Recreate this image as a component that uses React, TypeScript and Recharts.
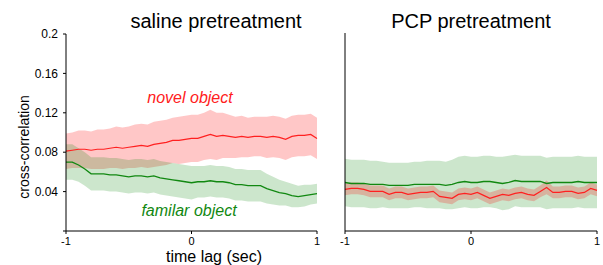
import React from 'react';
import { ComposedChart, Area, Line, XAxis, YAxis } from 'recharts';

// time lag (sec), step 0.05
const lags = [
  -1, -0.95, -0.9, -0.85, -0.8, -0.75, -0.7, -0.65, -0.6, -0.55, -0.5, -0.45, -0.4, -0.35, -0.3, -0.25, -0.2, -0.15, -0.1, -0.05,
  0, 0.05, 0.1, 0.15, 0.2, 0.25, 0.3, 0.35, 0.4, 0.45, 0.5, 0.55, 0.6, 0.65, 0.7, 0.75, 0.8, 0.85, 0.9, 0.95, 1,
];

// saline pretreatment
const salineNovel = [
  0.081, 0.082, 0.083, 0.083, 0.082, 0.083, 0.083, 0.084, 0.085, 0.084, 0.085, 0.086, 0.087, 0.086, 0.088, 0.089, 0.09, 0.092, 0.092, 0.093,
  0.094, 0.094, 0.096, 0.098, 0.096, 0.097, 0.096, 0.095, 0.096, 0.095, 0.096, 0.096, 0.095, 0.096, 0.095, 0.093, 0.096, 0.097, 0.097, 0.098, 0.094,
];
const salineNovelSem = [
  0.018, 0.018, 0.019, 0.019, 0.019, 0.02, 0.02, 0.02, 0.021, 0.021, 0.021, 0.022, 0.022, 0.022, 0.023, 0.023, 0.023, 0.023, 0.024, 0.024,
  0.024, 0.024, 0.024, 0.025, 0.024, 0.023, 0.022, 0.021, 0.021, 0.02, 0.02, 0.02, 0.021, 0.021, 0.021, 0.021, 0.021, 0.021, 0.021, 0.021, 0.021,
];
const salineFamiliar = [
  0.07, 0.07, 0.067, 0.063, 0.058, 0.058, 0.058, 0.057, 0.057, 0.056, 0.055, 0.056, 0.056, 0.055, 0.056, 0.054, 0.053, 0.052, 0.051, 0.05,
  0.049, 0.05, 0.05, 0.051, 0.05, 0.05, 0.049, 0.047, 0.047, 0.046, 0.046, 0.046, 0.043, 0.041, 0.039, 0.038, 0.036, 0.035, 0.036, 0.037, 0.038,
];
const salineFamiliarSem = [
  0.018, 0.018, 0.017, 0.017, 0.017, 0.017, 0.017, 0.017, 0.017, 0.017, 0.017, 0.017, 0.017, 0.017, 0.017, 0.017, 0.017, 0.017, 0.017, 0.017,
  0.017, 0.016, 0.016, 0.016, 0.016, 0.016, 0.016, 0.016, 0.016, 0.016, 0.016, 0.016, 0.015, 0.014, 0.013, 0.012, 0.012, 0.011, 0.011, 0.01, 0.01,
];

// PCP pretreatment
const pcpNovel = [
  0.042, 0.043, 0.043, 0.042, 0.04, 0.04, 0.04, 0.037, 0.039, 0.039, 0.037, 0.038, 0.039, 0.039, 0.04, 0.035, 0.034, 0.033, 0.037, 0.038,
  0.037, 0.039, 0.036, 0.033, 0.035, 0.037, 0.036, 0.038, 0.039, 0.037, 0.036, 0.04, 0.044, 0.039, 0.039, 0.04, 0.04, 0.038, 0.039, 0.043, 0.041,
];
const pcpNovelSem = [
  0.006, 0.006, 0.006, 0.006, 0.006, 0.006, 0.006, 0.006, 0.006, 0.006, 0.006, 0.006, 0.006, 0.006, 0.006, 0.006, 0.006, 0.006, 0.006, 0.006,
  0.006, 0.006, 0.006, 0.006, 0.006, 0.006, 0.006, 0.006, 0.006, 0.006, 0.006, 0.006, 0.007, 0.006, 0.006, 0.006, 0.006, 0.006, 0.006, 0.006, 0.006,
];
const pcpFamiliar = [
  0.049, 0.048, 0.048, 0.048, 0.047, 0.047, 0.047, 0.046, 0.046, 0.046, 0.046, 0.047, 0.047, 0.047, 0.047, 0.047, 0.046, 0.047, 0.049, 0.05,
  0.049, 0.049, 0.05, 0.05, 0.049, 0.048, 0.049, 0.051, 0.05, 0.05, 0.05, 0.05, 0.048, 0.049, 0.049, 0.049, 0.049, 0.05, 0.049, 0.049, 0.049,
];
const pcpFamiliarSem = [
  0.024, 0.024, 0.024, 0.024, 0.024, 0.024, 0.023, 0.023, 0.023, 0.023, 0.023, 0.023, 0.023, 0.024, 0.024, 0.024, 0.024, 0.025, 0.026, 0.026,
  0.026, 0.026, 0.026, 0.026, 0.026, 0.027, 0.027, 0.026, 0.026, 0.026, 0.026, 0.026, 0.026, 0.026, 0.026, 0.026, 0.026, 0.026, 0.026, 0.026, 0.026,
];

const yTicks = [0, 0.04, 0.08, 0.12, 0.16, 0.2];
const xTicks = [-1, 0, 1];

const build = (nov: number[], novSem: number[], fam: number[], famSem: number[]) =>
  lags.map((t, i) => ({
    t,
    novel: nov[i],
    novelBand: [nov[i] - novSem[i], nov[i] + novSem[i]],
    familiar: fam[i],
    familiarBand: [fam[i] - famSem[i], fam[i] + famSem[i]],
  }));

const salineData = build(salineNovel, salineNovelSem, salineFamiliar, salineFamiliarSem);
const pcpData = build(pcpNovel, pcpNovelSem, pcpFamiliar, pcpFamiliarSem);

const FONT = '"Liberation Sans", Arial, sans-serif';
const RED = '#ff2020';
const GREEN = '#118811';
const yTickStyle = { fill: '#000', fontSize: 12, fontFamily: FONT };
const xTickStyle = { fill: '#000', fontSize: 11, fontFamily: FONT };

const fmtY = (v: number) => (v === 0 ? '' : String(Number(v.toFixed(2))));

function Panel({ data, showLabels, redOnTop }: { data: any[]; showLabels: boolean; redOnTop: boolean }) {
  const novelBand = (
    <Area key="nb" type="linear" dataKey="novelBand" stroke="none" fill="#ff0000" fillOpacity={0.22}
      isAnimationActive={false} dot={false} activeDot={false} />
  );
  const famBand = (
    <Area key="fb" type="linear" dataKey="familiarBand" stroke="none" fill="#008000" fillOpacity={0.2}
      isAnimationActive={false} dot={false} activeDot={false} />
  );
  return (
    <ComposedChart
      width={showLabels ? 330 : 273}
      height={265}
      data={data}
      margin={showLabels ? { top: 34, right: 13, left: 0, bottom: 0 } : { top: 33, right: 6, left: 0, bottom: 0 }}
    >
      <XAxis
        dataKey="t"
        type="number"
        domain={[-1, 1]}
        ticks={xTicks}
        height={34}
        stroke="#000"
        tick={xTickStyle}
        tickSize={3}
        tickMargin={3}
        interval={0}
      />
      <YAxis
        type="number"
        domain={[0, 0.2]}
        ticks={yTicks}
        width={showLabels ? 66 : 15}
        stroke="#000"
        tick={showLabels ? yTickStyle : false}
        tickSize={3}
        tickMargin={5}
        tickFormatter={fmtY}
        interval={0}
      />
      {redOnTop ? [famBand, novelBand] : [novelBand, famBand]}
      <Line type="linear" dataKey="familiar" stroke={GREEN} strokeWidth={1.3} dot={false} activeDot={false} isAnimationActive={false} />
      <Line type="linear" dataKey="novel" stroke={RED} strokeWidth={1.2} dot={false} activeDot={false} isAnimationActive={false} />
    </ComposedChart>
  );
}

export default function App() {
  return (
    <div style={{ position: 'absolute', left: 0, top: 0, width: 603, height: 265, background: '#fff', overflow: 'hidden' }}>
      <div style={{ position: 'absolute', left: 0, top: 0 }}>
        <Panel data={salineData} showLabels={true} redOnTop={false} />
      </div>
      <div style={{ position: 'absolute', left: 330, top: 0 }}>
        <Panel data={pcpData} showLabels={false} redOnTop={true} />
      </div>
      <svg width={603} height={265} style={{ position: 'absolute', left: 0, top: 0, pointerEvents: 'none' }} fontFamily={FONT}>
        <text x={216} y={28} fontSize={20} textAnchor="middle" fill="#000">saline pretreatment</text>
        <text x={471} y={28} fontSize={20} textAnchor="middle" fill="#000">PCP pretreatment</text>
        <text transform="translate(29,147) rotate(-90)" fontSize={14} textAnchor="middle" fill="#000">cross-correlation</text>
        <text x={214} y={262} fontSize={16} textAnchor="middle" fill="#000">time lag (sec)</text>
        <text x={190} y={103} fontSize={16} fontStyle="italic" textAnchor="middle" fill={RED}>novel object</text>
        <text x={189} y={216} fontSize={16} fontStyle="italic" textAnchor="middle" fill={GREEN}>familar object</text>
      </svg>
    </div>
  );
}
